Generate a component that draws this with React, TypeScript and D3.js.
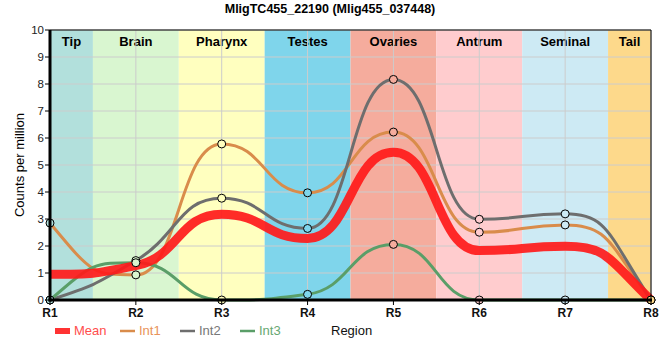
import React from "react";
import * as d3 from "d3";

const title = "MligTC455_22190 (Mlig455_037448)";
const xLabels = ["R1", "R2", "R3", "R4", "R5", "R6", "R7", "R8"];
const regionNames = ["Tip", "Brain", "Pharynx", "Testes", "Ovaries", "Antrum", "Seminal", "Tail"];
const regionColors = ["#b2e0dc", "#d9f6d0", "#ffffbf", "#7fd5eb", "#f5ac9d", "#ffccce", "#cdeaf4", "#fdd98b"];
const yTicks = [0, 1, 2, 3, 4, 5, 6, 7, 8, 9, 10];

const meanValues = [0.95, 1.27, 3.18, 2.28, 5.47, 1.83, 1.99, 0];
const int1Values = [2.85, 0.93, 5.78, 3.97, 6.22, 2.51, 2.78, 0];
const int2Values = [0, 1.46, 3.77, 2.65, 8.17, 2.99, 3.19, 0];
const int3Values = [0, 1.38, 0, 0.21, 2.06, 0, 0, 0];

const seriesNames = ["Int1", "Int2", "Int3"];
const seriesColors = ["#d98c4b", "#6e6e6e", "#5a9e68"];
const legendTextColors = ["#e8935a", "#777777", "#68a872"];

const W = 660, H = 360;
const m = { left: 50, right: 9, top: 30, bottom: 60 };
const K = 0.5; // control point reach (fraction of step)

// monotone slopes (per index step), PCHIP-like end slopes
function slopes(v: number[]): number[] {
  const n = v.length;
  const s = [];
  for (let i = 0; i < n - 1; i++) s.push(v[i + 1] - v[i]);
  const mm = new Array(n).fill(0);
  for (let i = 1; i < n - 1; i++) {
    const a = s[i - 1], b = s[i];
    const p = (a + b) / 2;
    mm[i] = (Math.sign(a) + Math.sign(b)) * Math.min(Math.abs(a), Math.abs(b), 0.5 * Math.abs(p)) || 0;
  }
  const endSlope = (d0: number, d1: number) => {
    let e = (3 * d0 - d1) / 2;
    if (Math.sign(e) !== Math.sign(d0)) return 0;
    if (Math.abs(e) > Math.abs(d0) / K) e = d0 / K;
    return e;
  };
  mm[0] = endSlope(s[0], s[1]);
  mm[n - 1] = endSlope(s[n - 2], s[n - 3]);
  return mm;
}

export default function App() {
  const x = d3.scaleLinear().domain([0, 7]).range([m.left, W - m.right]);
  const y = d3.scaleLinear().domain([0, 10]).range([H - m.bottom, m.top]);
  const curvePath = (vals: number[]) => {
    const sl = slopes(vals);
    const p = d3.path();
    p.moveTo(x(0), y(vals[0]));
    for (let i = 0; i < vals.length - 1; i++) {
      p.bezierCurveTo(
        x(i + K), y(vals[i] + sl[i] * K),
        x(i + 1 - K), y(vals[i + 1] - sl[i + 1] * K),
        x(i + 1), y(vals[i + 1])
      );
    }
    return p.toString();
  };
  const ints = [int1Values, int2Values, int3Values];
  const font = "'Liberation Sans', Arial, sans-serif";
  return (
    <svg width={W} height={H} style={{ position: "absolute", left: 0, top: 0 }} fontFamily={font}>
      <rect width={W} height={H} fill="#fff" />
      <text x={330} y={13} textAnchor="middle" fontWeight="bold" fontSize={12.5}>
        {title}
      </text>
      {regionNames.map((n, i) => {
        const x0 = x(Math.max(0, i - 0.5));
        const x1 = x(Math.min(7, i + 0.5));
        return (
          <g key={n}>
            <rect x={x0} y={y(10)} width={x1 - x0} height={y(0) - y(10)} fill={regionColors[i]} />
            <text x={(x0 + x1) / 2} y={46} textAnchor="middle" fontWeight="bold" fontSize={13}>
              {n}
            </text>
          </g>
        );
      })}
      {yTicks.map((t) => (
        <line key={"g" + t} x1={x(0)} x2={x(7)} y1={y(t)} y2={y(t)} stroke="#cccccc" strokeWidth={1} />
      ))}
      {xLabels.map((l, i) => (
        <line key={"v" + l} x1={x(i)} x2={x(i)} y1={y(0)} y2={y(10)} stroke="#cccccc" strokeWidth={1} />
      ))}
      {ints.map((vals, k) => (
        <path key={"l" + k} d={curvePath(vals)} fill="none" stroke={seriesColors[k]} strokeWidth={3} />
      ))}
      <path d={curvePath(meanValues)} fill="none" stroke="#ff1a1a" strokeOpacity={0.92} strokeWidth={9} />
      {ints.map((vals, k) =>
        vals.map((v, i) => (
          <circle key={"c" + k + "-" + i} cx={x(i)} cy={y(v)} r={4} fill={regionColors[i]} stroke="#000" strokeWidth={1} />
        ))
      )}
      <line x1={x(7)} x2={x(7)} y1={y(0)} y2={y(10)} stroke="#000" strokeWidth={1} />
      <line x1={x(0)} x2={x(7)} y1={y(10)} y2={y(10)} stroke="#000" strokeWidth={1} />
      <line x1={x(0)} x2={x(0)} y1={y(10)} y2={y(0) + 1.5} stroke="#000" strokeWidth={3} />
      <line x1={x(0) - 1.5} x2={x(7) + 1} y1={y(0)} y2={y(0)} stroke="#000" strokeWidth={3} />
      {yTicks.map((t) => (
        <g key={"yt" + t}>
          <line x1={x(0) - 5} x2={x(0)} y1={y(t)} y2={y(t)} stroke="#000" strokeWidth={1} />
          <text x={44} y={y(t) + 4} textAnchor="end" fontSize={11.5} fill="#222">
            {t}
          </text>
        </g>
      ))}
      {xLabels.map((l, i) => (
        <g key={"xt" + l}>
          <line x1={x(i)} x2={x(i)} y1={y(0)} y2={y(0) + 5} stroke="#000" strokeWidth={1} />
          <text x={x(i)} y={317} textAnchor="middle" fontWeight="bold" fontSize={12} fill="#111">
            {l}
          </text>
        </g>
      ))}
      <text transform={`translate(24,${(y(0) + y(10)) / 2}) rotate(-90)`} textAnchor="middle" fontSize={13}>
        Counts per million
      </text>
      <g fontSize={13}>
        <rect x={55} y={328} width={15} height={6} fill="#ff3333" />
        <text x={74} y={335} fill="#ff4d4d">Mean</text>
        {seriesNames.map((n, k) => (
          <g key={"lg" + n}>
            <line x1={120 + 60 * k} x2={135 + 60 * k} y1={331} y2={331} stroke={seriesColors[k]} strokeWidth={2.5} />
            <text x={139 + 60 * k} y={335} fill={legendTextColors[k]}>
              {n}
            </text>
          </g>
        ))}
        <text x={331} y={335} fill="#111">Region</text>
      </g>
    </svg>
  );
}
